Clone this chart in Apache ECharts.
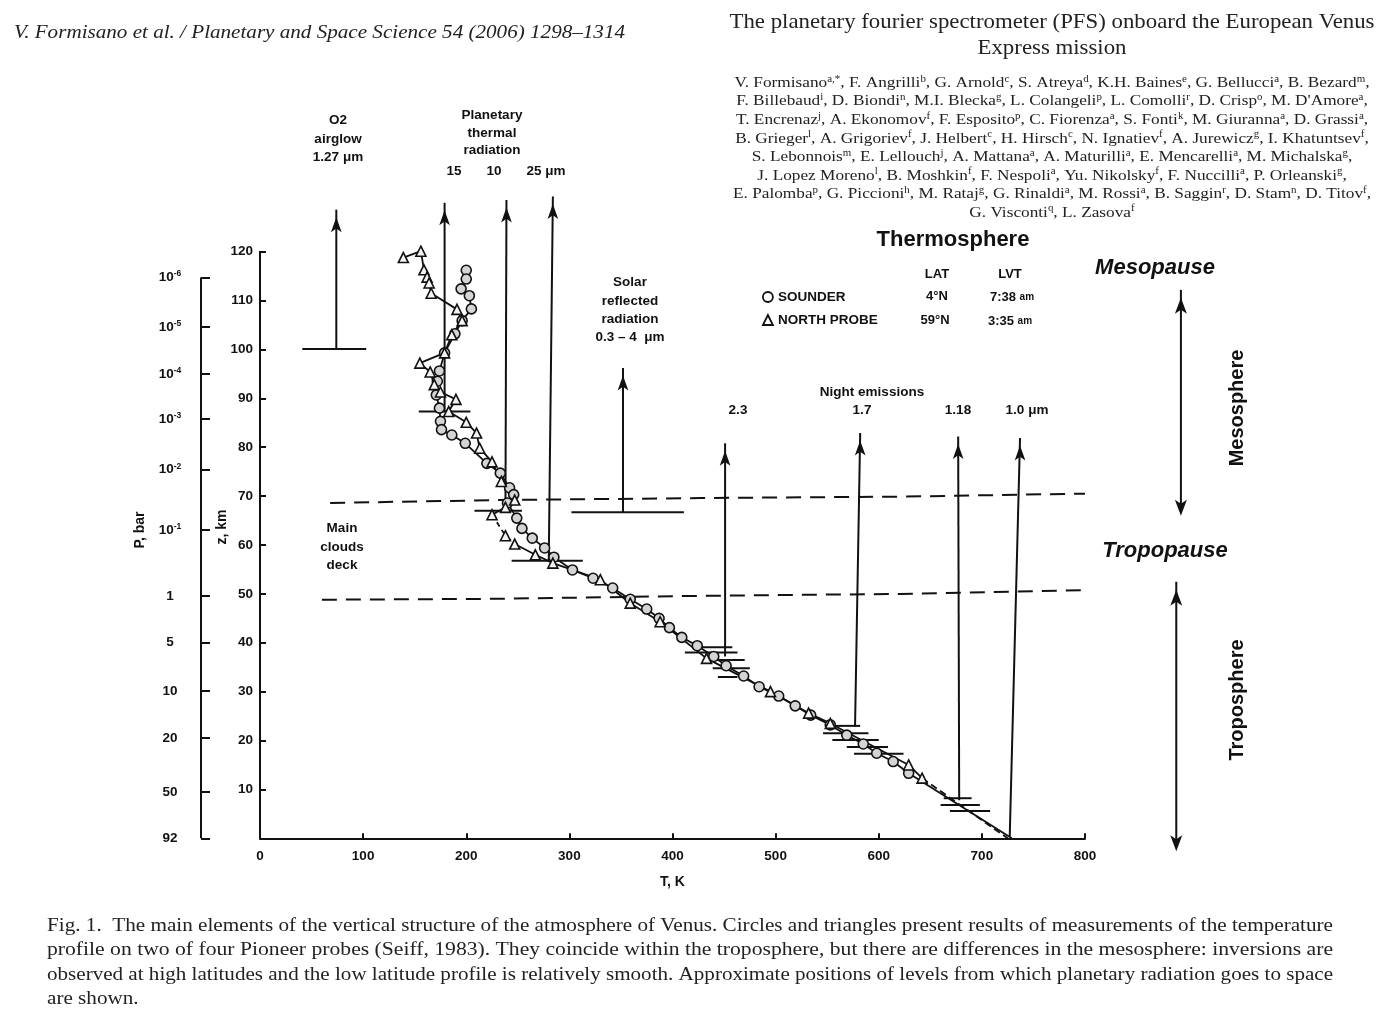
<!DOCTYPE html>
<html><head><meta charset="utf-8">
<script src="https://cdn.jsdelivr.net/npm/echarts@6/dist/echarts.min.js"></script>
<style>html,body{margin:0;padding:0;background:#fff}#c{width:1400px;height:1029px}</style>
</head><body><div id="c"></div>
<script>
// ---------------- DATA ----------------
const tempRange = [0, 800, 100];          // T, K axis
const altRange = [0, 120, 10];            // z, km axis
const pressureLabels = ['10^-6','10^-5','10^-4','10^-3','10^-2','10^-1','1','5','10','20','50','92'];
const pressureAlt = [114.7,104.6,95.0,85.8,75.4,63.1,49.6,40.0,30.1,20.5,9.5,0];

// Sounder probe (circles): [T K, z km]
const sounder = [[200,116.2],[200,114.4],[195,112.4],[203,111.0],[205,108.3],[196,105.9],[189,103.2],[179,99.3],[174,95.6],[172,93.5],[171,90.7],[174,88.0],[175,85.3],[176,83.6],[186,82.5],[199,80.8],[220,76.7],[233,74.7],[242,71.7],[246,70.3],[240,68.6],[249,65.5],[254,63.4],[264,61.4],[276,59.4],[285,57.5],[303,54.9],[323,53.2],[342,51.2],[359,48.9],[375,46.9],[387,45.0],[397,43.1],[409,41.1],[424,39.4],[440,37.2],[452,35.3],[469,33.2],[484,31.0],[503,29.1],[519,27.1],[534,25.2],[553,23.2],[569,21.1],[585,19.3],[598,17.4],[614,15.7],[629,13.3]];
// North probe (triangles)
const northProbe = [[139,118.8],[156,120.1],[159,116.3],[162,114.8],[164,113.6],[166,111.5],[191,108.2],[196,105.9],[186,103.0],[179,99.3],[155,97.2],[165,95.4],[169,92.8],[175,91.3],[190,89.8],[183,87.3],[200,85.1],[210,82.9],[213,79.8],[225,77.0],[234,73.0],[247,69.2],[238,67.7],[225,66.2],[238,61.9],[247,60.2],[267,58.0],[284,56.3],[330,52.9],[359,48.1],[388,44.3],[433,36.8],[495,30.0],[532,25.6],[553,23.5],[629,15.0],[642,12.3]];
const sounderTail = [[629,13.3],[729,0]];
const probeTail = [[642,12.3],[725,0]];
// cloud deck boundaries
const cloudTop = [[68,68.6],[233,69.2],[427,69.6],[621,69.9],[800,70.5]];
const cloudBase = [[60,48.8],[233,49.0],[427,49.6],[621,50.0],[805,50.8]];
// radiation arrows: [T base, z base, T tip, z tip]
const radiationArrows = [[74,100.1,74,128.6],[179,87.3,179,130],[238,67,239,130.6],[280,56.8,284,131.3],[352,66.7,352,96.2],[451,37.2,451,80.8],[577,22.8,582,82.9],[678,7.8,677,82.2],[727,0.3,737,81.9]];
// horizontal level bars: [T from, T to, z]
const levelBars = [[41,103,100.1],[154,204,87.3],[208,254,67.0],[244,313,56.8],[302,411,66.7]];
const errorBars = [[427,458,39.1],[412,463,38.0],[432,470,36.5],[439,475,34.8],[444,463,33.0],[553,582,23.0],[546,590,21.5],[555,600,20.1],[569,609,18.7],[576,624,17.3],[663,690,8.2],[660,698,6.8],[669,708,5.6]];
// layer double arrows (Mesosphere, Troposphere): [T, z top, z bottom]
const layerArrows = [[893,112.2,67.6],[888.5,52.5,-1.0]];

// ---------------- STYLE ----------------
const FS = 'Liberation Sans, Arial, Helvetica, sans-serif';
const SERIF = 'Liberation Serif, Times New Roman, serif';
const INK = '#111';
const mctx = document.createElement('canvas').getContext('2d');
function mw(text, size, family, style) {
  mctx.font = (style || 'normal') + ' normal ' + size + 'px ' + family;
  return mctx.measureText(text).width;
}

function txt(x, y, text, o) {
  o = o || {};
  const al = o.align || 'center';
  return { type: 'text', x: x, y: y, rotation: o.rot || 0, scaleX: o.sx || 1, silent: true, z: 50,
    style: { text: text, fill: o.color || INK, fontFamily: o.ff || FS, fontSize: o.fs || 14,
      fontWeight: o.fw || 'normal', fontStyle: o.fst || 'normal',
      align: al, textAlign: al, verticalAlign: 'middle', textVerticalAlign: 'middle',
      lineHeight: o.lh, rich: o.rich } };
}
function supText(s) { return s.replace(/\^\{([^}]*)\}/g, '{s|$1}'); }

const authors = [
  "V. Formisano^{a,*}, F. Angrilli^{b}, G. Arnold^{c}, S. Atreya^{d}, K.H. Baines^{e}, G. Bellucci^{a}, B. Bezard^{m},",
  "F. Billebaud^{i}, D. Biondi^{n}, M.I. Blecka^{g}, L. Colangeli^{p}, L. Comolli^{r}, D. Crisp^{o}, M. D'Amore^{a},",
  "T. Encrenaz^{j}, A. Ekonomov^{f}, F. Esposito^{p}, C. Fiorenza^{a}, S. Fonti^{k}, M. Giuranna^{a}, D. Grassi^{a},",
  "B. Grieger^{l}, A. Grigoriev^{f}, J. Helbert^{c}, H. Hirsch^{c}, N. Ignatiev^{f}, A. Jurewicz^{g}, I. Khatuntsev^{f},",
  "S. Lebonnois^{m}, E. Lellouch^{j}, A. Mattana^{a}, A. Maturilli^{a}, E. Mencarelli^{a}, M. Michalska^{g},",
  "J. Lopez Moreno^{l}, B. Moshkin^{f}, F. Nespoli^{a}, Yu. Nikolsky^{f}, F. Nuccilli^{a}, P. Orleanski^{g},",
  "E. Palomba^{p}, G. Piccioni^{h}, M. Rataj^{g}, G. Rinaldi^{a}, M. Rossi^{a}, B. Saggin^{r}, D. Stam^{n}, D. Titov^{f},",
  "G. Visconti^{q}, L. Zasova^{f}"
];
const caption = [
  "Fig. 1.  The main elements of the vertical structure of the atmosphere of Venus. Circles and triangles present results of measurements of the temperature",
  "profile on two of four Pioneer probes (Seiff, 1983). They coincide within the troposphere, but there are differences in the mesosphere: inversions are",
  "observed at high latitudes and the low latitude profile is relatively smooth. Approximate positions of levels from which planetary radiation goes to space",
  "are shown."
];
const headerLeft = 'V. Formisano et al. / Planetary and Space Science 54 (2006) 1298\u20131314';
const titleLines = ['The planetary fourier spectrometer (PFS) onboard the European Venus', 'Express mission'];

const graphics = [];
// header
const hSize = 19;
graphics.push(txt(14, 33, headerLeft, {align:'left', ff: SERIF, fst:'italic', fs: hSize, color:'#222',
  sx: 611 / mw(headerLeft, hSize, SERIF, 'italic')}));
const tSize = 21, tScale = 645 / mw(titleLines[0], tSize, SERIF);
graphics.push(txt(1052, 22, titleLines[0], {ff: SERIF, fs: tSize, color:'#222', sx: tScale}));
graphics.push(txt(1052, 48, titleLines[1], {ff: SERIF, fs: tSize, color:'#222', sx: tScale}));
const aSize = 15;
const a0plain = authors[0].replace(/\^\{([^}]*)\}/g, '');
const a0sup = (authors[0].match(/\^\{([^}]*)\}/g) || []).join('').replace(/[\^{}]/g, '');
const aScale = 635 / (mw(a0plain, aSize, SERIF) + mw(a0sup, 9.5, SERIF));
const supRich = { s: { fontSize: 9.5, lineHeight: 9, verticalAlign: 'top', fontFamily: SERIF, color: '#222' } };
authors.forEach((a, i) => graphics.push(txt(1052, 83 + i * 18.55, supText(a), {ff: SERIF, fs: aSize, lh: 18, color:'#222', rich: supRich, sx: aScale})));
const cSize = 19.5;
const cScales = caption.map(c => 1286 / mw(c, cSize, SERIF));
caption.forEach((c, i) => graphics.push(txt(47, 926 + i * 24.3, c, {align:'left', ff: SERIF, fs: cSize, color:'#222',
  sx: i < caption.length - 1 ? cScales[i] : cScales[0]})));

// chart annotations
const B = {fw: 'bold', fs: 13.5};
graphics.push(txt(338, 139, 'O2\nairglow\n1.27 \u03bcm', Object.assign({lh: 18.5}, B)));
graphics.push(txt(492, 133, 'Planetary\nthermal\nradiation', Object.assign({lh: 17.5}, B)));
graphics.push(txt(454, 171, '15', B));
graphics.push(txt(494, 171, '10', B));
graphics.push(txt(546, 171, '25 \u03bcm', B));
graphics.push(txt(630, 310, 'Solar\nreflected\nradiation\n0.3 \u2013 4  \u03bcm', Object.assign({lh: 18.3}, B)));
graphics.push(txt(872, 392, 'Night emissions', B));
graphics.push(txt(738, 410, '2.3', B));
graphics.push(txt(862, 410, '1.7', B));
graphics.push(txt(958, 410, '1.18', B));
graphics.push(txt(1027, 410, '1.0 \u03bcm', B));
graphics.push(txt(342, 547, 'Main\nclouds\ndeck', Object.assign({lh: 18.5}, B)));
graphics.push(txt(953, 240, 'Thermosphere', {fs: 22, fw: 'bold'}));
graphics.push(txt(937, 274, 'LAT', {fw: 'bold', fs: 13}));
graphics.push(txt(1010, 274, 'LVT', {fw: 'bold', fs: 13}));
graphics.push(txt(937, 296, '4\u00b0N', {fw: 'bold', fs: 13}));
graphics.push(txt(935, 320, '59\u00b0N', {fw: 'bold', fs: 13}));
const amRich = { a: { fontSize: 10, fontWeight: 'bold', fontFamily: FS, color: INK } };
graphics.push(txt(1012, 297, '7:38 {a|am}', {fw: 'bold', fs: 13, rich: amRich}));
graphics.push(txt(1010, 321, '3:35 {a|am}', {fw: 'bold', fs: 13, rich: amRich}));
graphics.push(txt(1155, 268, 'Mesopause', {fs: 22, fw: 'bold', fst: 'italic'}));
graphics.push(txt(1165, 551, 'Tropopause', {fs: 22, fw: 'bold', fst: 'italic'}));
graphics.push(txt(1237, 408, 'Mesosphere', {fs: 20, fw: 'bold', rot: Math.PI / 2}));
graphics.push(txt(1237, 700, 'Troposphere', {fs: 20, fw: 'bold', rot: Math.PI / 2}));
graphics.push(txt(140, 530, 'P, bar', {fs: 14, fw: 'bold', rot: Math.PI / 2}));
graphics.push(txt(222, 527, 'z, km', {fs: 14, fw: 'bold', rot: Math.PI / 2}));

// ---------------- SERIES ----------------
const base = { xAxisIndex: 0, yAxisIndex: 0, silent: true, clip: false, animation: false };
function seg(data, o) {
  o = o || {};
  return Object.assign({}, base, { type: 'line', data: data, symbol: 'none', z: o.z || 3,
    lineStyle: { color: INK, width: o.w || 2, type: o.dash || 'solid' } });
}
const series = [];
series.push(seg(cloudTop, {dash: [15, 9], w: 2}));
series.push(seg(cloudBase, {dash: [15, 9], w: 2}));
series.push(seg(sounder, {w: 1.8, z: 4}));
series.push(seg(sounderTail, {w: 1.8, z: 4}));
series.push(seg(northProbe.slice(0, 24), {w: 1.8, z: 4}));
series.push(seg(northProbe.slice(23, 26), {w: 1.8, z: 4, dash: [5, 4]}));
series.push(seg(northProbe.slice(25), {w: 1.8, z: 4}));
series.push(seg(probeTail, {w: 1.8, z: 4, dash: [7, 4]}));
radiationArrows.forEach(a => {
  series.push(Object.assign({}, base, { type: 'line', z: 3, symbol: 'none',
    lineStyle: { color: INK, width: 2 },
    data: [ { value: [a[0], a[1]], symbol: 'none' },
            { value: [a[2], a[3]], symbol: 'arrow', symbolSize: [8, 15], symbolOffset: [0, '50%'], itemStyle: { color: INK } } ] }));
});
// layer arrows lie right of the T axis: drawn on a wider hidden axis sharing the same K-per-pixel scale
layerArrows.forEach(a => {
  series.push(Object.assign({}, base, { xAxisIndex: 2, yAxisIndex: 2, type: 'line', z: 3, symbol: 'none',
    lineStyle: { color: INK, width: 2 },
    data: [ { value: [a[0], a[1]], symbol: 'arrow', symbolSize: [9, 16], symbolOffset: [0, '50%'], itemStyle: { color: INK } },
            { value: [a[0], a[2]], symbol: 'arrow', symbolRotate: 180, symbolSize: [9, 16], symbolOffset: [0, '50%'], itemStyle: { color: INK } } ] }));
});
levelBars.forEach(b => series.push(seg([[b[0], b[2]], [b[1], b[2]]], {w: 2})));
errorBars.forEach(b => series.push(seg([[b[0], b[2]], [b[1], b[2]]], {w: 2})));
series.push(Object.assign({}, base, { type: 'scatter', name: 'SOUNDER', data: sounder, symbol: 'circle', symbolSize: 10, z: 6,
  itemStyle: { color: '#d4d4d4', borderColor: INK, borderWidth: 1.6, opacity: 1 } }));
series.push(Object.assign({}, base, { type: 'scatter', name: 'NORTH PROBE', data: northProbe, symbol: 'triangle', symbolSize: 10, z: 6,
  itemStyle: { color: '#f4f4f4', borderColor: INK, borderWidth: 1.6, opacity: 1 } }));
// pressure axis line
series.push({ type: 'line', xAxisIndex: 1, yAxisIndex: 1, silent: true, clip: false, animation: false, symbol: 'none',
  data: [[0, pressureAlt[pressureAlt.length - 1]], [0, pressureAlt[0]]], lineStyle: { color: INK, width: 2 } });

const tickFont = { fontFamily: FS, fontWeight: 'bold', fontSize: 13.5, color: INK };
const GRID_L = 260, GRID_R = 315;
const wideMax = tempRange[1] * (1400 - GRID_L) / (1400 - GRID_L - GRID_R);
const option = {
  animation: false,
  backgroundColor: '#fff',
  grid: [
    { left: GRID_L, right: GRID_R, top: 251.7, bottom: 190.7 },
    { left: 201, width: 10, top: 251.7, bottom: 190.7 },
    { left: GRID_L, right: 0, top: 251.7, bottom: 190.7 }
  ],
  legend: {
    data: [ { name: 'SOUNDER', icon: 'circle' }, { name: 'NORTH PROBE', icon: 'triangle' } ],
    orient: 'vertical', left: 757, top: 285, itemWidth: 10, itemHeight: 10, itemGap: 9, selectedMode: false,
    itemStyle: { color: '#fff', borderColor: INK, borderWidth: 1.8 },
    textStyle: { fontFamily: FS, fontWeight: 'bold', fontSize: 13.5, color: INK }
  },
  xAxis: [
    { type: 'value', gridIndex: 0, min: tempRange[0], max: tempRange[1], interval: tempRange[2],
      name: 'T, K', nameLocation: 'middle', nameGap: 37, nameTextStyle: Object.assign({}, tickFont, { fontSize: 14 }),
      axisLine: { lineStyle: { color: INK, width: 2 } },
      axisTick: { inside: true, length: 5, lineStyle: { color: INK, width: 2 } },
      axisLabel: Object.assign({ margin: 11 }, tickFont), splitLine: { show: false } },
    { type: 'value', gridIndex: 1, min: 0, max: 1, show: false },
    { type: 'value', gridIndex: 2, min: tempRange[0], max: wideMax, show: false }
  ],
  yAxis: [
    { type: 'value', gridIndex: 0, min: altRange[0], max: altRange[1], interval: altRange[2],
      axisLine: { lineStyle: { color: INK, width: 2 } },
      axisTick: { inside: true, length: 6, lineStyle: { color: INK, width: 2 } },
      axisLabel: Object.assign({ margin: 7, showMinLabel: false }, tickFont), splitLine: { show: false } },
    { type: 'value', gridIndex: 1, min: altRange[0], max: altRange[1],
      axisLine: { show: false },
      axisTick: { show: true, inside: true, length: 9, customValues: pressureAlt, lineStyle: { color: INK, width: 2 } },
      axisLabel: { show: true, customValues: pressureAlt, margin: 31, align: 'center',
        formatter: function (v) {
          let i = 0, best = 1e9;
          pressureAlt.forEach((a, k) => { if (Math.abs(a - v) < best) { best = Math.abs(a - v); i = k; } });
          const s = pressureLabels[i];
          if (s.indexOf('10^') === 0) return '{n|10}{s|' + s.slice(3) + '}';
          return '{n|' + s + '}';
        },
        rich: { n: Object.assign({ lineHeight: 16 }, tickFont),
                s: { fontFamily: FS, fontWeight: 'bold', fontSize: 8.5, color: INK, lineHeight: 8, verticalAlign: 'top' } } },
      splitLine: { show: false } },
    { type: 'value', gridIndex: 2, min: altRange[0], max: altRange[1], show: false }
  ],
  series: series,
  graphic: graphics
};
const chart = echarts.init(document.getElementById('c'), null, { renderer: 'canvas' });
chart.setOption(option);
</script>
</body></html>
